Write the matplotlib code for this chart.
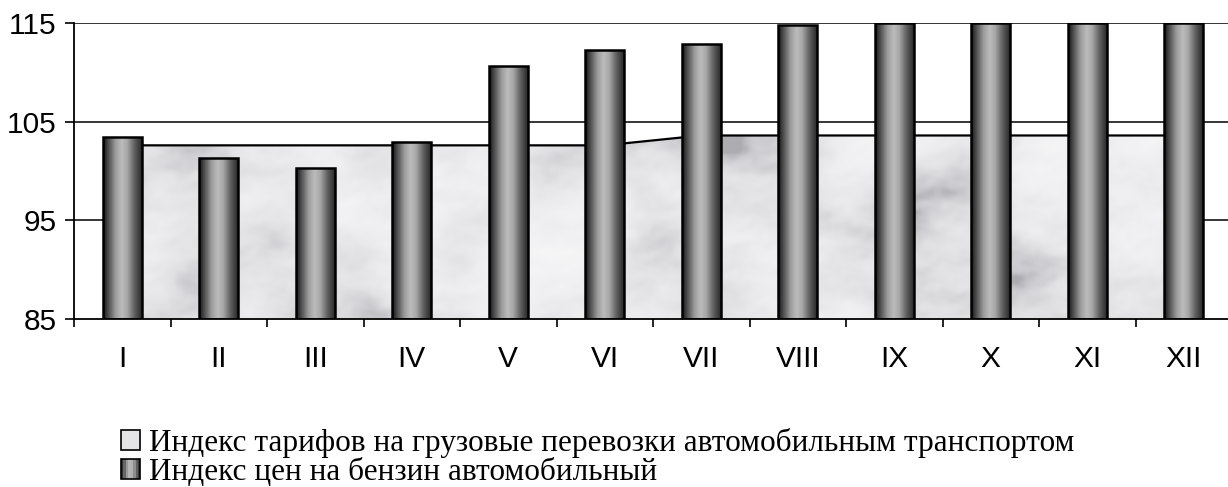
"""Tariff index vs petrol price index by month (area + cylinder-style bars)."""
import numpy as np
import matplotlib
matplotlib.use("Agg")
import matplotlib.pyplot as plt
from matplotlib.colors import LinearSegmentedColormap
from matplotlib.patches import Rectangle
from matplotlib.legend_handler import HandlerBase

months = ["I", "II", "III", "IV", "V", "VI", "VII", "VIII", "IX", "X", "XI", "XII"]
tariff_index = [102.6, 102.6, 102.6, 102.6, 102.6, 102.6,
                103.6, 103.6, 103.6, 103.6, 103.6, 103.6]
petrol_index = [103.4, 101.3, 100.3, 102.9, 110.6, 112.3,
                112.9, 114.8, 115.0, 115.0, 115.0, 115.0]
label_tariff = "Индекс тарифов на грузовые перевозки автомобильным транспортом"
label_petrol = "Индекс цен на бензин автомобильный"

Y_MIN, Y_MAX = 85, 115

bar_cmap = LinearSegmentedColormap.from_list(
    "cyl", [(0.0, "#151515"), (0.12, "#4a4a4a"), (0.32, "#9c9c9c"),
            (0.48, "#bcbcbc"), (0.62, "#a8a8a8"), (0.82, "#5e5e5e"),
            (1.0, "#2a2a2a")])
marble_cmap = LinearSegmentedColormap.from_list(
    "marble", ["#acacb1", "#cbcbcf", "#e1e1e4", "#eeeef0", "#f6f6f7"])


def marble_texture(w=900, h=240):
    # deterministic multi-octave sine pattern, only used as a fill texture
    yy, xx = np.mgrid[0:h, 0:w] / 60.0
    v = np.zeros_like(xx)
    golden = 2.399963
    amp = 1.0
    for k in range(7):
        f = 1.7 ** k
        a = golden * (k + 1)
        u = xx * np.cos(a) + yy * np.sin(a)
        w2 = -xx * np.sin(a) + yy * np.cos(a)
        v += amp * np.sin(f * u + 1.3 * np.sin(f * 0.8 * w2 + k)) * np.cos(f * 0.6 * w2 + 0.9 * k)
        amp *= 0.62
    v = (v - v.min()) / (v.max() - v.min())
    return np.clip((v - 0.15) / 0.85, 0, 1) ** 0.7


class GradientHandler(HandlerBase):
    def create_artists(self, legend, orig_handle, xdescent, ydescent,
                       width, height, fontsize, trans):
        arts = []
        n = 8
        for i in range(n):
            arts.append(Rectangle((-xdescent + width * i / n, -ydescent), width / n, height,
                                  facecolor=bar_cmap((i + 0.5) / n), edgecolor="none",
                                  transform=trans))
        arts.append(Rectangle((-xdescent, -ydescent), width, height, facecolor="none",
                              edgecolor="black", linewidth=1.2, transform=trans))
        return arts


fig = plt.figure(figsize=(12.28, 4.87), dpi=100)
ax = fig.add_axes([74 / 1228, 1 - 319 / 487, (1232 - 74) / 1228, (319 - 23) / 487])

x = np.arange(len(months))

# gridlines
for v in (95, 105, 115):
    ax.axhline(v, color="black", linewidth=1.1, zorder=1)

# area series with marble texture
area = ax.fill_between(x, tariff_index, Y_MIN, facecolor="#ebebed", edgecolor="none", zorder=2)
tex = ax.imshow(marble_texture(), cmap=marble_cmap, aspect="auto", zorder=2.1,
                extent=(x[0], x[-1], Y_MIN, max(tariff_index)), interpolation="bilinear")
tex.set_clip_path(area.get_paths()[0], transform=ax.transData)
ax.plot(x, tariff_index, color="black", linewidth=1.6, zorder=2.2)

# bars with cylinder gradient
bars = ax.bar(x, np.array(petrol_index) - Y_MIN, bottom=Y_MIN, width=0.40,
              facecolor="none", edgecolor="black", linewidth=1.8, zorder=4)
grad = np.linspace(0, 1, 64).reshape(1, -1)
for b in bars:
    im = ax.imshow(grad, cmap=bar_cmap, aspect="auto", zorder=3,
                   extent=(b.get_x(), b.get_x() + b.get_width(), b.get_y(), b.get_y() + b.get_height()))
    im.set_clip_path(b)

ax.set_xlim(-0.5, len(months) - 0.5)
ax.set_ylim(Y_MIN, Y_MAX)
ax.set_yticks([85, 95, 105, 115])
ax.set_xticks(x)
ax.set_xticklabels(months)
ax.set_xticks(np.arange(len(months) + 1) - 0.5, minor=True)
ax.tick_params(axis="x", which="major", length=0, pad=19)
ax.tick_params(axis="x", which="minor", length=6, width=1.2, direction="out")
ax.tick_params(axis="y", length=6.5, width=1.2, direction="out", pad=6)
for lab in ax.get_xticklabels() + ax.get_yticklabels():
    lab.set_fontfamily("Liberation Sans")
    lab.set_fontsize(21.5)

for side in ("top", "right"):
    ax.spines[side].set_visible(False)
for side in ("left", "bottom"):
    ax.spines[side].set_linewidth(1.3)
    ax.spines[side].set_zorder(5)

h1 = Rectangle((0, 0), 1, 1, facecolor="#e4e4e6", edgecolor="black", linewidth=1.2)
h2 = Rectangle((0, 0), 1, 1)
fig.legend([h1, h2], [label_tariff, label_petrol], loc="upper left",
           bbox_to_anchor=(121 / 1228, 1 - 428 / 487), frameon=False,
           handler_map={h2: GradientHandler()},
           prop={"family": "Liberation Serif", "size": 22.5},
           handlelength=0.62, handleheight=0.62, handletextpad=0.28,
           labelspacing=0.0, borderpad=0, borderaxespad=0)

fig.savefig("out.png", dpi=100)
